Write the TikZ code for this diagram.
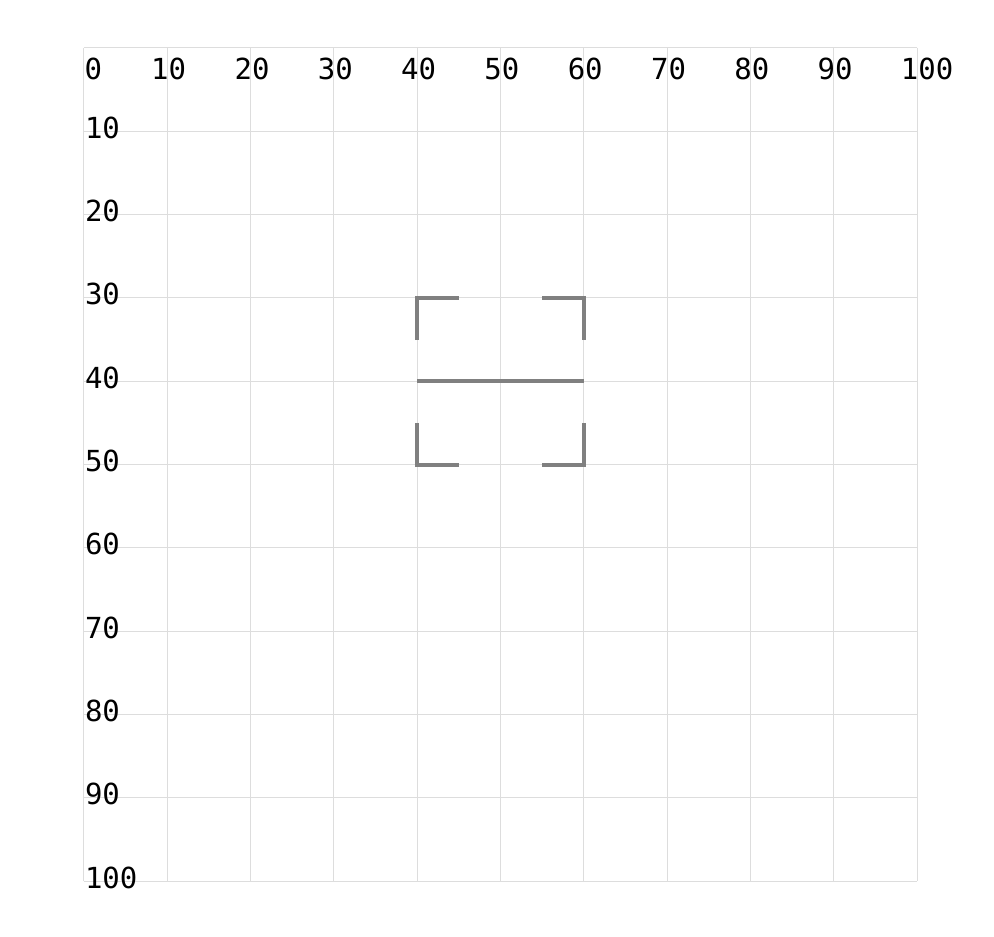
\documentclass[tikz,border=0pt]{standalone}
\usepackage{fontspec}
\setmonofont{DejaVu Sans Mono}
\usepackage{xcolor}
\usepackage{tikz}
\usetikzlibrary{positioning}

\definecolor{gridgray}{HTML}{DDDDDD}
\definecolor{markgray}{HTML}{808080}

\begin{document}
\begin{tikzpicture}[x=8.33pt,
			y=-8.33pt,
			ticklabel/.style={anchor=base west, inner sep=0pt, font=\fontsize{29}{29}\selectfont\ttfamily},
			gridline/.style={draw=gridgray, line width=1pt},
			bracket/.style={draw=markgray, line width=4pt, line join=miter}]

			\useasboundingbox (-10.08,-5.76) rectangle (109.24,106.6);

			% grid
			\foreach \i in {0,10,...,100} {
				\draw[gridline] (\i,0) -- (\i,100);
				\draw[gridline] (0,\i) -- (100,\i);
			}

			% labels
			\node[ticklabel] (x0) at (0.05,3.84) {0};
			\foreach \i in {10,20,...,100}
				\node[ticklabel] (x\i) at (\i-1.95,3.84) {\i};
			\foreach \j in {10,20,...,100}
				\node[ticklabel] (y\j) at (0.1,\j+0.84) {\j};

			% corners
			\draw[bracket] (40,35) -- (40,30) -- (45,30);
			\draw[bracket] (55,30) -- (60,30) -- (60,35);
			\draw[bracket] (40,45) -- (40,50) -- (45,50);
			\draw[bracket] (55,50) -- (60,50) -- (60,45);
			\draw[bracket, line width=3.5pt] (40,40) -- (60,40);
		\end{tikzpicture}
\end{document}
